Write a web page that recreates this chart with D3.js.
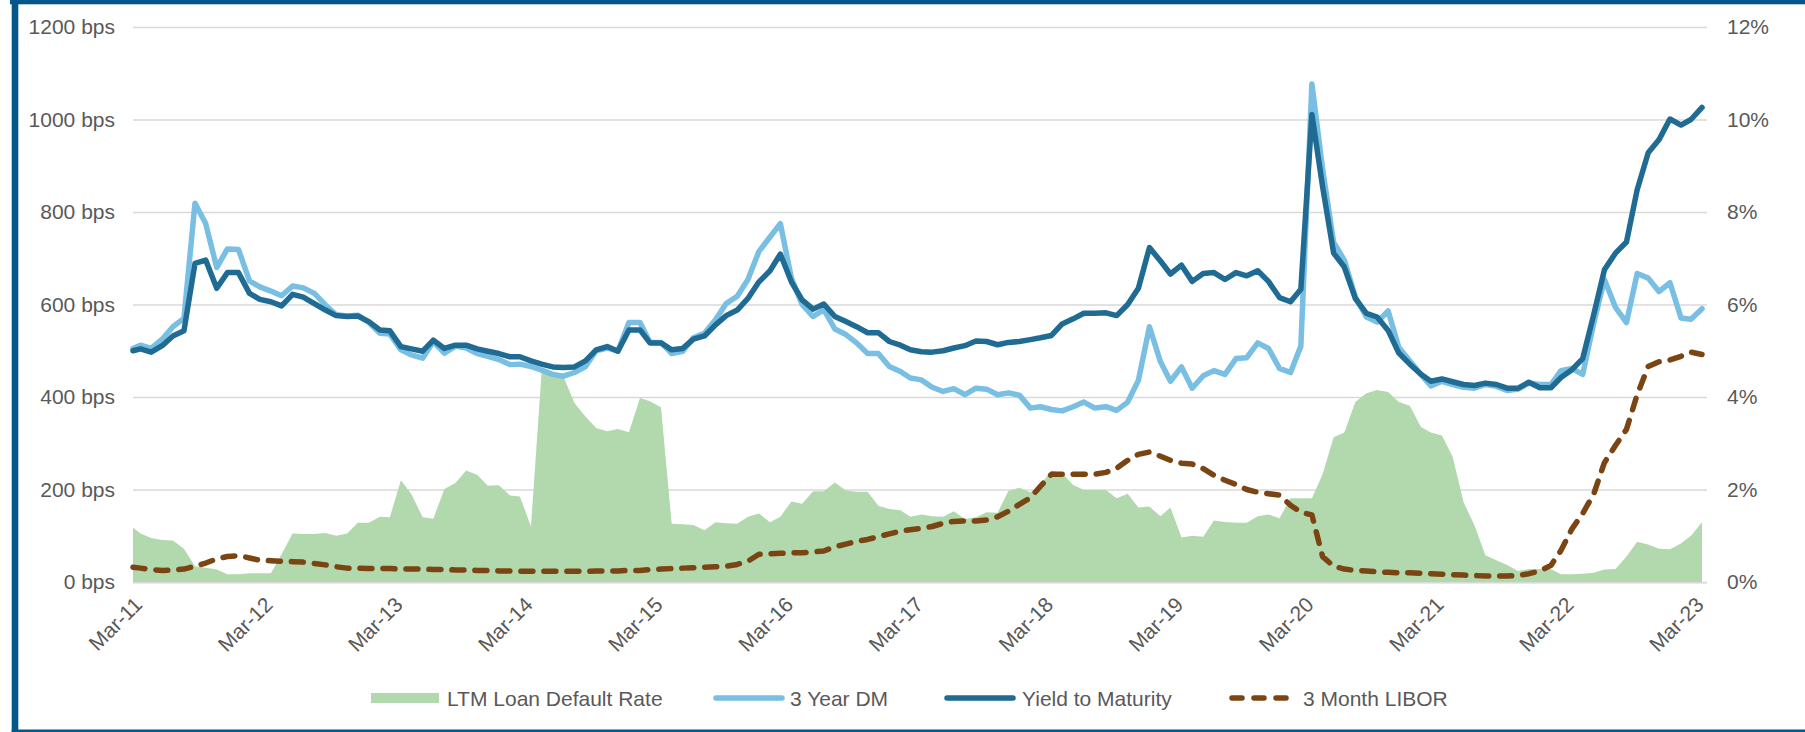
<!DOCTYPE html>
<html>
<head>
<meta charset="utf-8">
<script src="https://cdn.jsdelivr.net/npm/d3@7"></script>
<style>
    html, body { margin: 0; padding: 0; background: #ffffff; }
    svg text { font-family: "Liberation Sans", Arial, sans-serif; fill: #595959; }
</style>
</head>
<body>
<svg id="chart" width="1805" height="732"></svg>
<script>
// First observation is mid-March 2011, then one observation per month end.
var firstDate = "2011-03-10";
var lastMonthEnd = "2023-03-31";
var tickLabels = ["Mar-11", "Mar-12", "Mar-13", "Mar-14", "Mar-15", "Mar-16", "Mar-17",
                  "Mar-18", "Mar-19", "Mar-20", "Mar-21", "Mar-22", "Mar-23"];
var leftTicks = [0, 200, 400, 600, 800, 1000, 1200];
var rightTicks = [0, 2, 4, 6, 8, 10, 12];

// Yield to Maturity (bps)
var ytm = [500, 504, 497, 511, 532, 543, 689, 696, 635, 669, 669, 624, 611, 606, 597, 622, 616, 602, 588, 576,
           574, 575, 563, 545, 543, 509, 504, 499, 523, 505, 512, 512, 504, 499, 494, 487, 487, 478, 471, 465,
           464, 465, 478, 502, 509, 499, 545, 545, 517, 517, 502, 505, 525, 532, 556, 576, 588, 613, 649, 673,
           709, 649, 610, 590, 601, 574, 563, 552, 539, 539, 520, 512, 502, 498, 497, 500, 506, 511, 521, 520,
           513, 518, 520, 524, 528, 533, 558, 569, 581, 581, 582, 576, 600, 635, 723, 694, 666, 685, 650, 667,
           669, 654, 669, 662, 673, 650, 615, 606, 633, 1011, 855, 711, 681, 613, 581, 573, 544, 495, 471, 449,
           434, 439, 433, 427, 425, 430, 427, 419, 419, 432, 420, 420, 442, 459, 483, 578, 675, 711, 735, 848,
           928, 956, 1001, 988, 1000, 1026];

// 3 Year DM (bps)
var dm = [505, 512, 505, 525, 552, 570, 819, 775, 680, 720, 719, 651, 638, 629, 619, 640, 636, 624, 599, 578,
          575, 577, 561, 538, 536, 502, 491, 484, 520, 495, 510, 506, 494, 488, 481, 470, 471, 466, 458, 449,
          445, 453, 466, 500, 506, 499, 561, 561, 518, 518, 494, 499, 528, 538, 567, 602, 618, 654, 715, 746,
          775, 657, 600, 574, 589, 547, 535, 517, 494, 494, 466, 455, 441, 437, 421, 412, 418, 405, 419, 417,
          405, 409, 404, 376, 379, 373, 370, 379, 389, 376, 379, 371, 389, 436, 552, 476, 434, 465, 419, 446,
          457, 449, 483, 485, 517, 505, 462, 453, 510, 1077, 893, 734, 696, 616, 573, 562, 586, 507, 478, 449,
          424, 434, 427, 421, 419, 427, 423, 414, 417, 430, 427, 427, 457, 462, 449, 559, 654, 594, 561, 667,
          657, 628, 647, 571, 568, 591];

// 3 Month LIBOR (%)
var libor = [0.32, 0.30, 0.27, 0.25, 0.26, 0.28, 0.34, 0.41, 0.50, 0.55, 0.57, 0.52, 0.47, 0.46, 0.45, 0.44, 0.43, 0.40, 0.37, 0.33,
             0.30, 0.30, 0.29, 0.29, 0.29, 0.28, 0.28, 0.28, 0.27, 0.27, 0.26, 0.26, 0.25, 0.25, 0.24, 0.24, 0.23, 0.23, 0.23, 0.23,
             0.23, 0.23, 0.23, 0.24, 0.24, 0.24, 0.25, 0.25, 0.27, 0.28, 0.29, 0.30, 0.31, 0.32, 0.33, 0.34, 0.38, 0.45, 0.60, 0.61,
             0.62, 0.63, 0.63, 0.65, 0.67, 0.76, 0.82, 0.88, 0.92, 0.98, 1.04, 1.10, 1.13, 1.16, 1.20, 1.27, 1.31, 1.32, 1.32, 1.34,
             1.41, 1.53, 1.68, 1.82, 2.07, 2.33, 2.33, 2.33, 2.33, 2.33, 2.37, 2.46, 2.63, 2.76, 2.81, 2.72, 2.63, 2.57, 2.55, 2.45,
             2.31, 2.20, 2.11, 2.00, 1.94, 1.91, 1.88, 1.66, 1.51, 1.45, 0.55, 0.34, 0.28, 0.25, 0.24, 0.22, 0.21, 0.20, 0.20, 0.19,
             0.18, 0.17, 0.16, 0.15, 0.14, 0.13, 0.13, 0.13, 0.14, 0.18, 0.24, 0.36, 0.68, 1.15, 1.48, 1.90, 2.58, 2.95, 3.30, 4.05,
             4.66, 4.76, 4.80, 4.88, 4.97, 4.92];

// LTM Loan Default Rate (%)
var defaultRate = [1.18, 1.05, 0.95, 0.91, 0.90, 0.72, 0.34, 0.31, 0.27, 0.17, 0.17, 0.19, 0.19, 0.19, 0.60, 1.05, 1.04, 1.04, 1.06, 1.00,
                   1.05, 1.28, 1.28, 1.41, 1.40, 2.20, 1.89, 1.40, 1.37, 2.01, 2.14, 2.41, 2.32, 2.08, 2.09, 1.87, 1.85, 1.20, 4.55, 4.50,
                   4.45, 3.87, 3.58, 3.33, 3.26, 3.31, 3.24, 3.98, 3.91, 3.78, 1.26, 1.25, 1.23, 1.12, 1.29, 1.27, 1.26, 1.41, 1.48, 1.29,
                   1.41, 1.74, 1.69, 1.96, 1.96, 2.15, 1.98, 1.95, 1.95, 1.65, 1.58, 1.55, 1.41, 1.46, 1.42, 1.41, 1.53, 1.36, 1.40, 1.51,
                   1.50, 1.97, 2.04, 1.94, 2.10, 2.41, 2.35, 2.10, 1.99, 1.99, 1.99, 1.81, 1.91, 1.61, 1.63, 1.42, 1.61, 0.96, 1.00, 0.98,
                   1.33, 1.30, 1.28, 1.28, 1.42, 1.46, 1.38, 1.81, 1.81, 1.81, 2.33, 3.13, 3.23, 3.89, 4.08, 4.15, 4.11, 3.89, 3.81, 3.35,
                   3.23, 3.17, 2.71, 1.72, 1.23, 0.58, 0.47, 0.37, 0.24, 0.28, 0.28, 0.28, 0.17, 0.17, 0.18, 0.20, 0.27, 0.28, 0.55, 0.87,
                   0.81, 0.72, 0.71, 0.83, 1.00, 1.29];

var legendItems = ["LTM Loan Default Rate", "3 Year DM", "Yield to Maturity", "3 Month LIBOR"];

var COLORS = {
    frame: "#04578b",
    grid: "#d9d9d9",
    area: "#b2d9ad",
    dm: "#78bfe3",
    ytm: "#1f6b94",
    libor: "#7b4513"
};

var svg = d3.select("#chart");
var W = 1805, H = 732;
var plot = { left: 133, right: 1707, top: 27, bottom: 582 };

svg.append("rect").attr("width", W).attr("height", H).attr("fill", "#ffffff");

// 1 Dates: first point, then month ends.
var parse = d3.timeParse("%Y-%m-%d");
var start = parse(firstDate);
var end = parse(lastMonthEnd);
var dates = [start].concat(
    d3.timeMonth.range(d3.timeMonth.offset(d3.timeMonth.floor(start), 1), d3.timeDay.offset(end, 2))
        .map(function (d) { return d3.timeDay.offset(d, -1); })
);
var tickDates = tickLabels.map(function (t, i) { return d3.timeMonth.offset(start, 12 * i); });

function rows(values) {
    return values.map(function (v, i) { return { date: dates[i], v: v }; });
}

// 2 Scales
var x = d3.scaleTime()
    .domain([start, d3.timeDay.offset(end, 14)])
    .range([plot.left, plot.right]);
var yL = d3.scaleLinear().domain([0, 1200]).range([plot.bottom, plot.top]);
var yR = d3.scaleLinear().domain([0, 12]).range([plot.bottom, plot.top]);

// 3 Left axis with gridlines
var gLeft = svg.append("g")
    .attr("transform", "translate(" + plot.left + ",0)")
    .call(d3.axisLeft(yL)
        .tickValues(leftTicks)
        .tickSize(-(plot.right - plot.left))
        .tickPadding(18)
        .tickFormat(function (d) { return d + " bps"; }));
gLeft.select(".domain").remove();
gLeft.selectAll("line").attr("stroke", COLORS.grid).attr("stroke-width", 1.4);
gLeft.selectAll("text").attr("font-size", 21).attr("fill", "#595959")
    .style("font-family", "'Liberation Sans', Arial, sans-serif");

// 4 Series
var area = d3.area()
    .x(function (d) { return x(d.date); })
    .y0(yR(0))
    .y1(function (d) { return yR(d.v); });

svg.append("path")
    .datum(rows(defaultRate))
    .attr("d", area)
    .attr("fill", COLORS.area);

// axis line on top of the area
svg.append("line")
    .attr("x1", plot.left).attr("x2", plot.right)
    .attr("y1", plot.bottom + 0.8).attr("y2", plot.bottom + 0.8)
    .attr("stroke", COLORS.grid).attr("stroke-width", 1.6);

var lineL = d3.line()
    .x(function (d) { return x(d.date); })
    .y(function (d) { return yL(d.v); });
var lineR = d3.line()
    .x(function (d) { return x(d.date); })
    .y(function (d) { return yR(d.v); });

svg.append("path")
    .datum(rows(dm))
    .attr("d", lineL)
    .attr("fill", "none")
    .attr("stroke", COLORS.dm)
    .attr("stroke-width", 5.5)
    .attr("stroke-linejoin", "round")
    .attr("stroke-linecap", "round");

svg.append("path")
    .datum(rows(ytm))
    .attr("d", lineL)
    .attr("fill", "none")
    .attr("stroke", COLORS.ytm)
    .attr("stroke-width", 5.5)
    .attr("stroke-linejoin", "round")
    .attr("stroke-linecap", "round");

svg.append("path")
    .datum(rows(libor))
    .attr("d", lineR)
    .attr("fill", "none")
    .attr("stroke", COLORS.libor)
    .attr("stroke-width", 5.5)
    .attr("stroke-dasharray", "12 11")
    .attr("stroke-linejoin", "round")
    .attr("stroke-linecap", "round");

// 5 Right axis
var gRight = svg.append("g")
    .attr("transform", "translate(" + plot.right + ",0)")
    .call(d3.axisRight(yR)
        .tickValues(rightTicks)
        .tickSize(0)
        .tickPadding(20)
        .tickFormat(function (d) { return d + "%"; }));
gRight.select(".domain").remove();
gRight.selectAll("text").attr("font-size", 21).attr("fill", "#595959")
    .style("font-family", "'Liberation Sans', Arial, sans-serif");

// 6 Bottom axis, labels rotated -45
var gBottom = svg.append("g")
    .attr("transform", "translate(0," + plot.bottom + ")")
    .call(d3.axisBottom(x)
        .tickValues(tickDates)
        .tickSize(0)
        .tickFormat(function (d, i) { return tickLabels[i]; }));
gBottom.select(".domain").remove();
gBottom.selectAll("text")
    .attr("font-size", 21)
    .attr("fill", "#595959")
    .style("font-family", "'Liberation Sans', Arial, sans-serif")
    .attr("text-anchor", "end")
    .attr("x", 0).attr("y", 0).attr("dy", 0)
    .attr("transform", "translate(10,24) rotate(-45)");

// 7 Legend
var legY = 698;
var leg = svg.append("g").attr("font-size", 21);
leg.append("rect").attr("x", 371).attr("y", legY - 5).attr("width", 68).attr("height", 10)
    .attr("fill", COLORS.area);
leg.append("line").attr("x1", 716).attr("x2", 782).attr("y1", legY).attr("y2", legY)
    .attr("stroke", COLORS.dm).attr("stroke-width", 5.5).attr("stroke-linecap", "round");
leg.append("line").attr("x1", 947).attr("x2", 1013).attr("y1", legY).attr("y2", legY)
    .attr("stroke", COLORS.ytm).attr("stroke-width", 5.5).attr("stroke-linecap", "round");
leg.append("line").attr("x1", 1232).attr("x2", 1290).attr("y1", legY).attr("y2", legY)
    .attr("stroke", COLORS.libor).attr("stroke-width", 5.5).attr("stroke-linecap", "round")
    .attr("stroke-dasharray", "10 12");
var legX = [447, 790, 1022, 1303];
leg.selectAll("text.leg")
    .data(legendItems)
    .enter().append("text")
    .attr("class", "leg")
    .attr("x", function (d, i) { return legX[i]; })
    .attr("y", legY + 7.5)
    .text(function (d) { return d; });

// 8 Frame
svg.append("rect").attr("x", 10).attr("y", 0).attr("width", W - 10).attr("height", 4.3).attr("fill", COLORS.frame);
svg.append("rect").attr("x", 11.7).attr("y", 0).attr("width", 6.6).attr("height", H).attr("fill", COLORS.frame);
svg.append("rect").attr("x", 11.7).attr("y", 729.5).attr("width", W - 11.7).attr("height", 2.5).attr("fill", COLORS.frame);
</script>
</body>
</html>
